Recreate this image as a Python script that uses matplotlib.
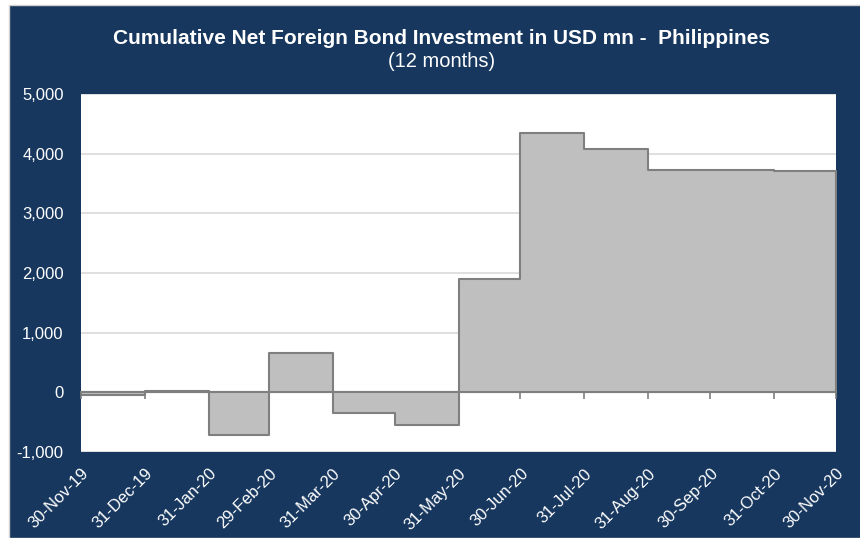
import matplotlib
matplotlib.use('Agg')
import matplotlib.pyplot as plt
from matplotlib.patches import Rectangle
from matplotlib.ticker import FuncFormatter, MultipleLocator
import pandas as pd

# Даты концов месяцев (подписи оси X)
month_ends = ['2019-11-30', '2019-12-31', '2020-01-31', '2020-02-29', '2020-03-31',
              '2020-04-30', '2020-05-31', '2020-06-30', '2020-07-31', '2020-08-31',
              '2020-09-30', '2020-10-31', '2020-11-30']
tick_labels = ['30-Nov-19', '31-Dec-19', '31-Jan-20', '29-Feb-20', '31-Mar-20',
               '30-Apr-20', '31-May-20', '30-Jun-20', '31-Jul-20', '31-Aug-20',
               '30-Sep-20', '31-Oct-20', '30-Nov-20']
# Значение в каждом месячном интервале (USD mn)
values = [-40, 15, -715, 660, -350, -540, 1895, 4345, 4075, 3720, 3720, 3710]

navy = '#17375e'
dates = pd.to_datetime(month_ends)

fig = plt.figure(figsize=(8.6, 5.38), dpi=100, facecolor='white')
# тёмно-синяя подложка
fig.patches.append(Rectangle((9 / 860, 0), 1, 1 - 5 / 538, transform=fig.transFigure,
                             facecolor=navy, edgecolor='#d0d0d0', lw=1, zorder=-10))

ax = fig.add_axes([81 / 860, 1 - 452 / 538, (836 - 81) / 860, (452 - 94) / 538])
ax.set_facecolor('white')

y = values + [values[-1]]
ax.fill_between(dates, y, 0, step='post', facecolor='#bfbfbf', edgecolor='#7f7f7f',
                linewidth=1.5, zorder=3)

ax.set_xlim(dates[0], dates[-1])
ax.set_ylim(-1000, 5000)
ax.yaxis.set_major_locator(MultipleLocator(1000))
ax.yaxis.set_major_formatter(FuncFormatter(lambda v, p: f'{v:,.0f}'))
ax.grid(axis='y', color='#d9d9d9', linewidth=1.2, zorder=0)
ax.set_axisbelow(True)
for s in ax.spines.values():
    s.set_visible(False)

ax.tick_params(axis='y', length=0, colors='white', labelsize=12, pad=12.5)
ax.set_xticks(dates)
ax.set_xticklabels(tick_labels, rotation=45, ha='right', rotation_mode='anchor')
ax.tick_params(axis='x', length=0, colors='white', labelsize=12, pad=10)
for lab in ax.get_xticklabels() + ax.get_yticklabels():
    lab.set_fontfamily('Liberation Sans')

# ось на нуле с метками
sec = ax.secondary_xaxis(1 / 6)
sec.set_xticks(dates)
sec.tick_params(axis='x', direction='out', length=5, width=1.2, color='#7f7f7f', labelbottom=False)
sec.spines['bottom'].set_color('#7f7f7f')
sec.spines['bottom'].set_linewidth(1.5)

fig.text(0.513, 0.929, 'Cumulative Net Foreign Bond Investment in USD mn -  Philippines',
         ha='center', va='center', color='white', fontsize=15, fontweight='bold',
         family='Liberation Sans')
fig.text(0.513, 0.885, '(12 months)', ha='center', va='center', color='white',
         fontsize=14.5, family='Liberation Sans')

fig.savefig('out.png', dpi=100, facecolor=fig.get_facecolor())
